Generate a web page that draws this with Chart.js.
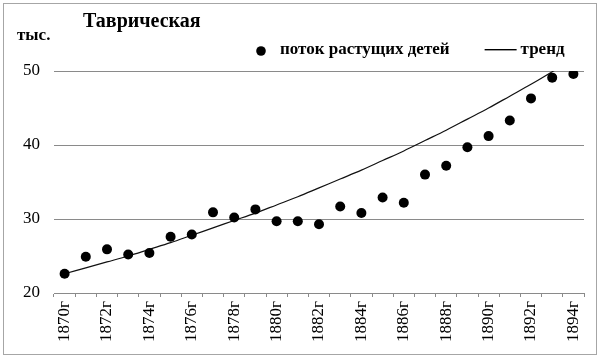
<!DOCTYPE html>
<html>
<head>
<meta charset="utf-8">
<script src="https://cdn.jsdelivr.net/npm/chart.js@4.4.0/dist/chart.umd.min.js"></script>
<style>
html,body{margin:0;padding:0;background:#fff;}
canvas{display:block;}
</style>
</head>
<body>
<canvas id="c" width="600" height="358"></canvas>
<script>
// ---- data ----
const years = ['1870г','1871г','1872г','1873г','1874г','1875г','1876г','1877г','1878г','1879г',
  '1880г','1881г','1882г','1883г','1884г','1885г','1886г','1887г','1888г','1889г',
  '1890г','1891г','1892г','1893г','1894г'];
const xTickLabels = ['1870г','','1872г','','1874г','','1876г','','1878г','',
  '1880г','','1882г','','1884г','','1886г','','1888г','',
  '1890г','','1892г','','1894г'];
const children = [22.6, 24.9, 25.9, 25.2, 25.4, 27.6, 27.9, 30.9, 30.2, 31.3,
  29.7, 29.7, 29.3, 31.7, 30.8, 32.9, 32.2, 36.0, 37.2, 39.7,
  41.2, 43.3, 46.3, 49.1, 49.6];
const trend = [22.6, 23.4, 24.2, 25.0, 25.9, 26.8, 27.8, 28.8, 29.8, 30.8,
  31.9, 33.0, 34.2, 35.4, 36.6, 37.9, 39.2, 40.6, 42.0, 43.5,
  45.0, 46.6, 48.2, 49.9, 51.6];
const yTicks = [20, 30, 40, 50];
const titleText = 'Таврическая';
const unitText = 'тыс.';
const seriesNames = ['поток растущих детей', 'тренд'];

// ---- styling ----
const SERIF = "'Liberation Serif', 'Times New Roman', serif";
const GRID = '#8a8a8a';

function makeDot() {
  const c = document.createElement('canvas');
  c.width = 24; c.height = 14;
  const g = c.getContext('2d');
  g.fillStyle = '#000';
  g.beginPath(); g.arc(10, 8, 4.8, 0, Math.PI * 2); g.fill();
  return c;
}
function makeDash() {
  const c = document.createElement('canvas');
  c.width = 40; c.height = 4;
  const g = c.getContext('2d');
  g.fillStyle = '#000';
  g.fillRect(1, 1, 32, 1.4);
  return c;
}
const legendMarks = [makeDot(), makeDash()];

function setBox(b, left, top, right, bottom) {
  b.left = left; b.top = top; b.right = right; b.bottom = bottom;
  b.width = right - left; b.height = bottom - top;
}

const placeBoxes = {
  id: 'placeBoxes',
  beforeDraw(chart) {
    const ctx = chart.ctx;
    ctx.save();
    ctx.fillStyle = '#fff';
    ctx.fillRect(0, 0, chart.width, chart.height);
    ctx.restore();
    chart.boxes.forEach(b => {
      const t = b.options && b.options.text;
      if (t === titleText) setBox(b, 83, 9.9, 450, 40);
      else if (t === unitText) setBox(b, 17, 25, 150, 50);
    });
    if (chart.legend) setBox(chart.legend, 209, -4, 640, 68);
  },
  afterDraw(chart) {
    const ctx = chart.ctx;
    ctx.save();
    ctx.strokeStyle = '#a6a6a6';
    ctx.lineWidth = 1;
    ctx.strokeRect(3.5, 3.5, 593, 351);
    ctx.restore();
  }
};

new Chart(document.getElementById('c'), {
  type: 'line',
  data: {
    labels: years,
    datasets: [
      {
        label: seriesNames[0],
        data: children,
        showLine: false,
        pointRadius: 5,
        pointHoverRadius: 5,
        pointBorderWidth: 0,
        pointBackgroundColor: '#000',
        borderColor: '#000',
        backgroundColor: '#000',
        pointStyle: 'circle'
      },
      {
        label: seriesNames[1],
        data: trend,
        borderColor: '#111',
        backgroundColor: '#111',
        borderWidth: 1.2,
        pointRadius: 0,
        pointHoverRadius: 0,
        tension: 0.3,
        cubicInterpolationMode: 'monotone',
        clip: 0
      }
    ]
  },
  options: {
    responsive: false,
    animation: false,
    devicePixelRatio: 1,
    events: [],
    layout: { padding: { left: 17, right: 16, top: 0, bottom: 14 } },
    plugins: {
      tooltip: { enabled: false },
      title: {
        display: true,
        text: titleText,
        align: 'start',
        color: '#000',
        font: { family: SERIF, size: 20, weight: 'bold', lineHeight: 1.2 },
        padding: { top: 0, bottom: 0 }
      },
      subtitle: {
        display: true,
        text: unitText,
        align: 'start',
        color: '#000',
        font: { family: SERIF, size: 17, weight: 'bold', lineHeight: 1.2 },
        padding: { top: 0, bottom: 0 }
      },
      legend: {
        display: true,
        position: 'top',
        align: 'start',
        maxHeight: 26.6,
        labels: {
          usePointStyle: true,
          padding: 45.5,
          color: '#000',
          font: { family: SERIF, size: 17, weight: 'bold' },
          generateLabels(chart) {
            const items = Chart.defaults.plugins.legend.labels.generateLabels(chart);
            items.forEach((it, i) => { it.pointStyle = legendMarks[i]; it.fontColor = '#000'; });
            return items;
          }
        }
      }
    },
    scales: {
      x: {
        type: 'category',
        offset: true,
        afterFit(scale) { scale.height = 51; },
        grid: {
          offset: true,
          drawOnChartArea: false,
          drawTicks: true,
          tickLength: 4,
          color: GRID
        },
        border: { display: true, color: GRID, width: 1 },
        ticks: {
          autoSkip: false,
          maxRotation: 90,
          minRotation: 90,
          padding: 4,
          color: '#000',
          font: { family: SERIF, size: 17 },
          callback: (v, i) => xTickLabels[i]
        }
      },
      y: {
        min: yTicks[0],
        max: yTicks[yTicks.length - 1],
        afterFit(scale) { scale.width = 37; },
        afterBuildTicks(scale) { scale.ticks = yTicks.map(v => ({ value: v })); },
        grid: { color: GRID, lineWidth: 1, drawTicks: false },
        border: { display: false },
        ticks: {
          padding: 14,
          color: '#000',
          font: { family: SERIF, size: 17 }
        }
      }
    }
  },
  plugins: [placeBoxes]
});
</script>
</body>
</html>
